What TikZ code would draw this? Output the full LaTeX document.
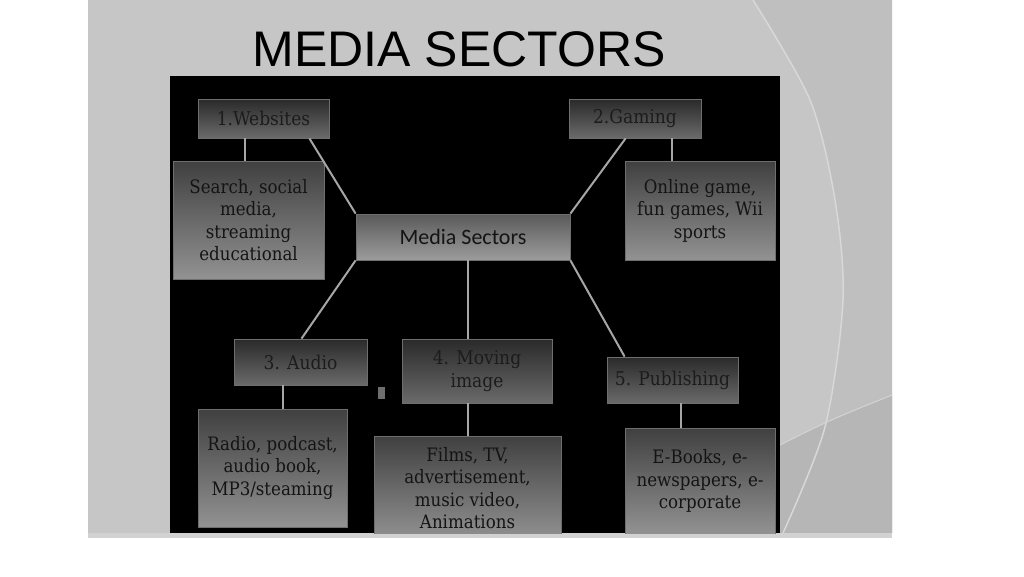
\documentclass[tikz,border=0pt]{standalone}
\usepackage{fontspec}
\setmainfont{DejaVu Serif Condensed}
\newfontfamily\titlefont{Liberation Sans}
\newfontfamily\hubfont{Carlito}
\definecolor{slide}{HTML}{C6C6C6}
\definecolor{slidemid}{HTML}{BFBFBF}
\definecolor{slidedeep}{HTML}{B6B6B6}
\definecolor{arcline}{HTML}{D8D8D8}
\definecolor{band}{HTML}{D2D2D2}
\definecolor{boxtop}{HTML}{404040}
\definecolor{boxbot}{HTML}{929292}
\definecolor{headtop}{HTML}{2A2A2A}
\definecolor{headbot}{HTML}{6A6A6A}
\definecolor{hubtop}{HTML}{5A5A5A}
\definecolor{hubbot}{HTML}{9C9C9C}
\definecolor{boxline}{HTML}{6E6E6E}
\definecolor{linkgray}{HTML}{A6A6A6}
\definecolor{ink}{HTML}{141414}
\definecolor{headink}{HTML}{1C1C1C}
\begin{document}
\begin{tikzpicture}[x=1pt,y=-1pt,
    box/.style={draw=boxline,line width=0.8pt,top color=boxtop,bottom color=boxbot,
      text=ink,align=center,inner sep=0pt,font=\fontsize{18.5}{22.5}\selectfont},
    head/.style={box,top color=headtop,bottom color=headbot,text=headink,font=\fontsize{19}{22.5}\selectfont},
    hub/.style={box,top color=hubtop,bottom color=hubbot,font=\hubfont\fontsize{22}{26}\selectfont},
    link/.style={draw=linkgray,line width=2pt}]
    \useasboundingbox (0,0) rectangle (1024,576);
    % slide
    \fill[white] (0,0) rectangle (1024,576);
    \fill[slide] (88,0) rectangle (892,538);
    \fill[slidemid] plot[smooth] coordinates {(753,0) (810,100) (835,200) (843,300) (825,427) (783,533)}
      -- (892,533) -- (892,0) -- cycle;
    \fill[slidedeep] (780,445) .. controls (830,420) .. (892,395) -- (892,533) -- (780,533) -- cycle;
    \draw[arcline,line width=1.5pt] plot[smooth] coordinates {(753,0) (810,100) (835,200) (843,300) (825,427) (783,533)};
    \draw[arcline!80!slide,line width=1pt] (780,445) .. controls (830,420) .. (892,395);
    \fill[band] (88,533) rectangle (892,538);
    \node[font=\titlefont\fontsize{50}{60}\selectfont,inner sep=0pt] (T) at (459,49) {MEDIA SECTORS};
    \fill[black] (170,76) rectangle (780,533);
    \begin{scope}
    \clip (170,76) rectangle (780,533);
    \node[head,minimum width=131pt,minimum height=39pt] (A0_0) at (263.5,118.5) {1.Websites};
    \node[head,minimum width=132pt,minimum height=39pt] (A0_2) at (635,118.5) {2.Gaming};
    \node[box,minimum width=151pt,minimum height=118pt] (A1_0) at (248.5,220) {Search, social\\media,\\streaming\\educational};
    \node[hub,minimum width=214pt,minimum height=46pt] (A1_1) at (463,237) {Media Sectors};
    \node[box,minimum width=150pt,minimum height=99pt] (A1_2) at (700,210.5) {Online game,\\fun games, Wii\\sports};
    \node[head,minimum width=133pt,minimum height=46pt] (A2_0) at (300.5,362) {3. Audio};
    \node[head,minimum width=150pt,minimum height=64pt] (A2_1) at (477,371) {4. Moving\\image};
    \node[head,minimum width=131pt,minimum height=46pt] (A2_2) at (672.5,380) {5. Publishing};
    \node[box,minimum width=149pt,minimum height=118pt] (A3_0) at (272.5,468) {Radio, podcast,\\audio book,\\MP3/steaming};
    \node[box,minimum width=187pt,minimum height=104pt] (A3_1) at (467.5,488) {Films, TV,\\advertisement,\\music video,\\Animations};
    \node[box,minimum width=150pt,minimum height=106pt] (A3_2) at (700,481) {E-Books, e-\\newspapers, e-\\corporate};
    \path[link] ([xshift=-20pt]A0_0.south east) edge (A1_1.north west);
    \path[link] ([xshift=57pt]A0_2.south west) edge (A1_1.north east);
    \path[link] ([xshift=-4pt]A1_0.north) edge ([xshift=-4pt]A1_0.north |- A0_0.south);
    \path[link] ([xshift=-28pt]A1_2.north) edge ([xshift=-28pt]A1_2.north |- A0_2.south);
    \path[link] (A1_1.south west) edge ([xshift=1pt]A2_0.north);
    \path[link] (A1_1.south -| A3_1.north) edge (A2_1.north -| A3_1.north);
    \path[link] (A2_1.south -| A3_1.north) edge (A3_1.north);
    \path[link] (A1_1.south east) edge ([xshift=18pt]A2_2.north west);
    \path[link] ([xshift=10pt]A3_0.north) edge ([xshift=10pt]A3_0.north |- A2_0.south);
    \path[link] ([xshift=-19pt]A3_2.north) edge ([xshift=-19pt]A3_2.north |- A2_2.south);
    \fill[boxline] (378,387) rectangle (385,399);
    \end{scope}
\end{tikzpicture}
\end{document}
